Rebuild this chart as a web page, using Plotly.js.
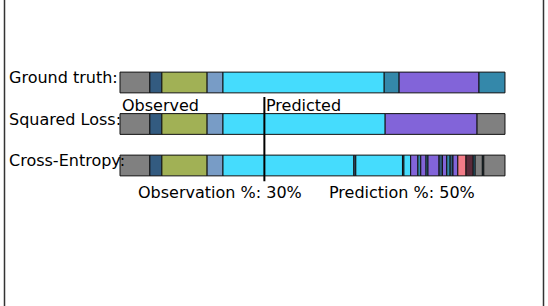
<!DOCTYPE html>
<html>
<head>
<meta charset="utf-8">
<script src="https://cdn.plot.ly/plotly-3.0.1.min.js"></script>
<style>html,body{margin:0;padding:0;background:#fff;}#chart{width:548px;height:306px;}</style>
</head>
<body>
<div id="chart"></div>
<script>
// Row labels
const rowLabels = ['Ground truth:', 'Squared Loss:', 'Cross-Entropy:'];
// Class colours (action classes)
const classColors = ['#808080', '#335b80', '#a1b155', '#789cc6', '#45dcfd', '#3488aa', '#8264d9', '#f47c88', '#5a2a3a'];
// Segment classes and segment end points (% of video, 0..80)
const gtClasses = [0, 1, 2, 3, 4, 5, 6, 5];
const gtEnds    = [6.2, 8.7, 18.1, 21.4, 54.9, 58.0, 74.6, 80];
const slClasses = [0, 1, 2, 3, 4, 6, 0];
const slEnds    = [6.2, 8.7, 18.1, 21.4, 55.1, 74.2, 80];
const ceClasses = [0, 1, 2, 3, 4, 1, 4, 5, 4, 6, 5, 6, 5, 6, 1, 6, 5, 1, 6, 7, 8, 5, 0, 5, 0];
const ceEnds    = [6.2, 8.7, 18.1, 21.4, 48.6, 49.0, 58.7, 59.0, 60.4, 61.9, 62.5, 63.6, 64.0, 66.3, 67.0, 67.9, 68.6, 69.2, 70.2, 71.9, 73.4, 73.8, 75.3, 75.6, 80];
const observationPct = 30;
const predictionPct = 50;

const rows = [[gtClasses, gtEnds], [slClasses, slEnds], [ceClasses, ceEnds]];
const ys = [], xs = [], bases = [], colors = [];
rows.forEach(function (r, i) {
  const cls = r[0], ends = r[1];
  let prev = 0;
  ends.forEach(function (e, k) {
    ys.push(i); bases.push(prev); xs.push(e - prev); colors.push(classColors[cls[k]]);
    prev = e;
  });
});

const font = {family: 'DejaVu Sans', size: 16, color: '#000'};
const traces = [
  {type: 'bar', orientation: 'h', y: ys, x: xs, base: bases, width: 0.5,
   marker: {color: colors, line: {color: '#111', width: 1}}, hoverinfo: 'skip', showlegend: false},
  {type: 'scatter', mode: 'lines', x: [observationPct, observationPct], y: [0.35, 2.38],
   line: {color: '#000', width: 2}, hoverinfo: 'skip', showlegend: false}
];

const annotations = rowLabels.map(function (t, i) {
  return {text: t, xref: 'paper', x: 7 / 548, xanchor: 'left', yref: 'y', y: i - 0.11, yanchor: 'middle',
          showarrow: false, font: font};
});
annotations.push({text: 'Observed', x: 0, xanchor: 'left', y: 0.55, yanchor: 'middle', showarrow: false, font: font});
annotations.push({text: 'Predicted', x: observationPct, xanchor: 'left', y: 0.55, yanchor: 'middle', showarrow: false, font: font});
annotations.push({text: 'Observation %: ' + observationPct + '%', x: 20.8, xanchor: 'center', y: 2.65, yanchor: 'middle', showarrow: false, font: font});
annotations.push({text: 'Prediction %: ' + predictionPct + '%', x: 58.6, xanchor: 'center', y: 2.65, yanchor: 'middle', showarrow: false, font: font});

const layout = {
  width: 548, height: 306,
  margin: {l: 0, r: 0, t: 0, b: 0},
  paper_bgcolor: '#fff', plot_bgcolor: '#fff',
  barmode: 'overlay',
  xaxis: {range: [-24.94, 88.94], showgrid: false, zeroline: false, showticklabels: false, showline: false, fixedrange: true},
  yaxis: {range: [5.386, -1.988], showgrid: false, zeroline: false, showticklabels: false, showline: false, fixedrange: true},
  annotations: annotations,
  shapes: [
    {type: 'line', xref: 'paper', yref: 'paper', x0: 4.5 / 548, x1: 4.5 / 548, y0: 0, y1: 1, line: {color: '#333', width: 1.5}},
    {type: 'line', xref: 'paper', yref: 'paper', x0: 543.5 / 548, x1: 543.5 / 548, y0: 0, y1: 1, line: {color: '#333', width: 1.5}}
  ]
};

Plotly.newPlot('chart', traces, layout, {staticPlot: true, displayModeBar: false});
</script>
</body>
</html>
